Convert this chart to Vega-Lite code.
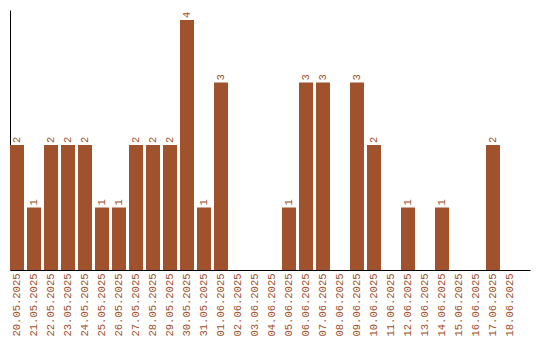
{
  "$schema": "https://vega.github.io/schema/vega-lite/v6.json",
  "width": 520,
  "height": 260,
  "autosize": {"type": "none"},
  "padding": {"left": 10, "top": 10, "right": 10, "bottom": 70},
  "background": "white",
  "config": {"view": {"stroke": null}},
  "data": {"values": [
    {"date": "20.05.2025", "count": 2},
    {"date": "21.05.2025", "count": 1},
    {"date": "22.05.2025", "count": 2},
    {"date": "23.05.2025", "count": 2},
    {"date": "24.05.2025", "count": 2},
    {"date": "25.05.2025", "count": 1},
    {"date": "26.05.2025", "count": 1},
    {"date": "27.05.2025", "count": 2},
    {"date": "28.05.2025", "count": 2},
    {"date": "29.05.2025", "count": 2},
    {"date": "30.05.2025", "count": 4},
    {"date": "31.05.2025", "count": 1},
    {"date": "01.06.2025", "count": 3},
    {"date": "02.06.2025", "count": 0},
    {"date": "03.06.2025", "count": 0},
    {"date": "04.06.2025", "count": 0},
    {"date": "05.06.2025", "count": 1},
    {"date": "06.06.2025", "count": 3},
    {"date": "07.06.2025", "count": 3},
    {"date": "08.06.2025", "count": 0},
    {"date": "09.06.2025", "count": 3},
    {"date": "10.06.2025", "count": 2},
    {"date": "11.06.2025", "count": 0},
    {"date": "12.06.2025", "count": 1},
    {"date": "13.06.2025", "count": 0},
    {"date": "14.06.2025", "count": 1},
    {"date": "15.06.2025", "count": 0},
    {"date": "16.06.2025", "count": 0},
    {"date": "17.06.2025", "count": 2},
    {"date": "18.06.2025", "count": 0}
  ]},
  "encoding": {
    "x": {
      "field": "date", "type": "ordinal", "sort": null,
      "scale": {"paddingInner": 0.176, "paddingOuter": 0.383, "align": 0},
      "axis": {
        "title": null, "ticks": false, "labelAngle": -90, "labelPadding": 3,
        "labelColor": "#a0522d", "labelFont": "Liberation Mono", "labelFontSize": 10.5,
        "domainColor": "black", "domainWidth": 1, "grid": false
      }
    },
    "y": {
      "field": "count", "type": "quantitative",
      "scale": {"domain": [0, 4.16], "nice": false},
      "axis": {"title": null, "labels": false, "ticks": false, "grid": false, "domainColor": "black", "domainWidth": 1}
    }
  },
  "layer": [
    {"mark": {"type": "bar", "color": "#a0522d"}},
    {
      "transform": [{"filter": "datum.count > 0"}],
      "mark": {"type": "text", "angle": -90, "align": "left", "baseline": "middle", "dx": 2, "color": "#a0522d", "font": "Liberation Mono", "fontSize": 10.5},
      "encoding": {"text": {"field": "count", "type": "quantitative"}}
    }
  ]
}
